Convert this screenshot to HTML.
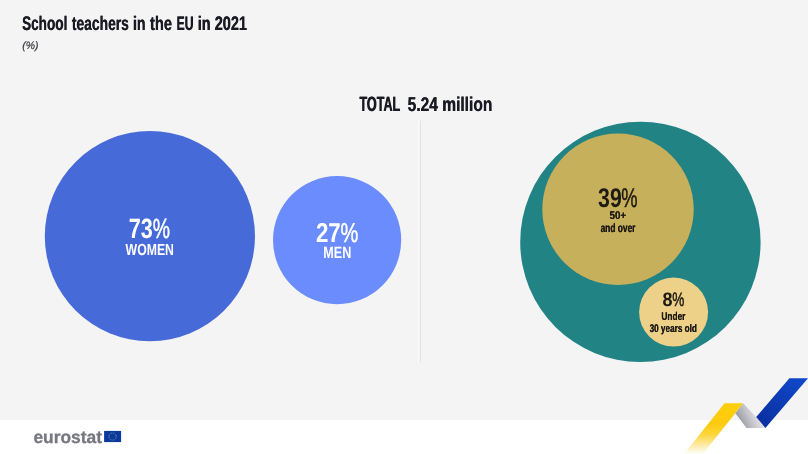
<!DOCTYPE html>
<html><head><meta charset="utf-8">
<style>
html,body{margin:0;padding:0;}
body{width:808px;height:454px;overflow:hidden;background:#f4f4f4;position:relative;font-family:"Liberation Sans",sans-serif;}
svg{position:absolute;left:0;top:0;will-change:transform;}
text{font-family:"Liberation Sans",sans-serif;text-rendering:geometricPrecision;}
</style></head><body>
<svg width="808" height="454" viewBox="0 0 808 454">
<defs>
<linearGradient id="gy" gradientUnits="userSpaceOnUse" x1="0" y1="454" x2="0" y2="403"><stop offset="0" stop-color="#ffffff"/><stop offset="0.12" stop-color="#fdf0c0"/><stop offset="0.4" stop-color="#fcd436"/><stop offset="0.6" stop-color="#fccb10"/><stop offset="1" stop-color="#fdcf08"/></linearGradient>
<linearGradient id="gg" gradientUnits="userSpaceOnUse" x1="737" y1="424" x2="762" y2="412"><stop offset="0" stop-color="#8c8c96"/><stop offset="0.5" stop-color="#c4c4ca"/><stop offset="1" stop-color="#f4f4f6"/></linearGradient>
<linearGradient id="gb" gradientUnits="userSpaceOnUse" x1="760" y1="425" x2="800" y2="380"><stop offset="0" stop-color="#0a2fa0"/><stop offset="1" stop-color="#1048c8"/></linearGradient>
</defs>
<rect x="0" y="0" width="808" height="454" fill="#f4f4f4"/>
<rect x="0" y="420" width="808" height="34" fill="#ffffff"/>
<rect x="418" y="121" width="1.6" height="241" fill="#fafafa"/><rect x="419.8" y="121" width="1.1" height="241" fill="#e2e2e2"/>
<circle cx="149.9" cy="236.2" r="105.1" fill="#476ad9"/>
<circle cx="337.1" cy="240.1" r="64.1" fill="#6a8cfc"/>
<circle cx="640.4" cy="241.9" r="120.2" fill="#228384"/>
<circle cx="618" cy="209.2" r="75.7" fill="#c7b05b"/>
<circle cx="673.6" cy="312.1" r="34.5" fill="#edd189"/>
<polygon points="724.5,403.2 743.2,403.2 702.8,454 684,454" fill="url(#gy)"/>
<polygon points="743.2,403.2 756.5,417.5 765.4,428 746.5,428 735.4,413.2" fill="url(#gg)"/>
<polygon points="789.4,378.2 808,378.2 765.4,428 756.2,417" fill="url(#gb)"/>
<text transform="translate(21.93 29.70) scale(0.6924 1)" font-size="19.60" font-weight="bold" font-style="normal" fill="#1a1a24">School</text>
<text transform="translate(22.28 29.70) scale(0.6924 1)" font-size="19.60" font-weight="bold" font-style="normal" fill="#1a1a24">School</text>
<text transform="translate(71.66 29.70) scale(0.7081 1)" font-size="19.60" font-weight="bold" font-style="normal" fill="#1a1a24">teachers</text>
<text transform="translate(72.01 29.70) scale(0.7081 1)" font-size="19.60" font-weight="bold" font-style="normal" fill="#1a1a24">teachers</text>
<text transform="translate(132.85 29.70) scale(0.7210 1)" font-size="19.60" font-weight="bold" font-style="normal" fill="#1a1a24">in</text>
<text transform="translate(133.20 29.70) scale(0.7210 1)" font-size="19.60" font-weight="bold" font-style="normal" fill="#1a1a24">in</text>
<text transform="translate(149.85 29.70) scale(0.7511 1)" font-size="19.60" font-weight="bold" font-style="normal" fill="#1a1a24">the</text>
<text transform="translate(150.20 29.70) scale(0.7511 1)" font-size="19.60" font-weight="bold" font-style="normal" fill="#1a1a24">the</text>
<text transform="translate(176.47 29.70) scale(0.6193 1)" font-size="19.60" font-weight="bold" font-style="normal" fill="#1a1a24">EU</text>
<text transform="translate(176.87 29.70) scale(0.6193 1)" font-size="19.60" font-weight="bold" font-style="normal" fill="#1a1a24">EU</text>
<text transform="translate(197.54 29.70) scale(0.7342 1)" font-size="19.60" font-weight="bold" font-style="normal" fill="#1a1a24">in</text>
<text transform="translate(197.89 29.70) scale(0.7342 1)" font-size="19.60" font-weight="bold" font-style="normal" fill="#1a1a24">in</text>
<text transform="translate(214.56 29.70) scale(0.7400 1)" font-size="19.60" font-weight="bold" font-style="normal" fill="#1a1a24">2021</text>
<text transform="translate(214.91 29.70) scale(0.7400 1)" font-size="19.60" font-weight="bold" font-style="normal" fill="#1a1a24">2021</text>
<text transform="translate(22.28 48.54) scale(0.9739 1)" font-size="10.74" font-weight="normal" font-style="italic" fill="#3a3a40" stroke="#3a3a40" stroke-width="0.2">(%)</text>
<text transform="translate(359.17 111.00) scale(0.6069 1)" font-size="20.71" font-weight="bold" font-style="normal" fill="#1a1a24">TOTAL</text>
<text transform="translate(359.72 111.00) scale(0.6069 1)" font-size="20.71" font-weight="bold" font-style="normal" fill="#1a1a24">TOTAL</text>
<text transform="translate(407.53 111.00) scale(0.7821 1)" font-size="19.86" font-weight="bold" font-style="normal" fill="#1a1a24">5.24 million</text>
<text transform="translate(407.83 111.00) scale(0.7821 1)" font-size="19.86" font-weight="bold" font-style="normal" fill="#1a1a24">5.24 million</text>
<text transform="translate(128.74 238.10) scale(0.7760 1)" font-size="27.86" font-weight="bold" font-style="normal" fill="#fff">73</text>
<text transform="translate(152.82 238.10) scale(0.6963 1)" font-size="27.86" font-weight="normal" font-style="normal" fill="#fff" stroke="#fff" stroke-width="0.5">%</text>
<text transform="translate(125.60 254.60) scale(0.7596 1)" font-size="16.14" font-weight="bold" font-style="normal" fill="#fff">WOMEN</text>
<text transform="translate(315.93 241.70) scale(0.8198 1)" font-size="27.29" font-weight="bold" font-style="normal" fill="#fff">27</text>
<text transform="translate(340.40 241.70) scale(0.7330 1)" font-size="27.29" font-weight="normal" font-style="normal" fill="#fff" stroke="#fff" stroke-width="0.5">%</text>
<text transform="translate(323.34 257.90) scale(0.7681 1)" font-size="16.43" font-weight="bold" font-style="normal" fill="#fff">MEN</text>
<text transform="translate(598.07 206.80) scale(0.7890 1)" font-size="27.00" font-weight="bold" font-style="normal" fill="#1e1a14">39</text>
<text transform="translate(621.35 206.80) scale(0.6783 1)" font-size="27.00" font-weight="normal" font-style="normal" fill="#1e1a14" stroke="#1e1a14" stroke-width="0.5">%</text>
<text transform="translate(609.40 218.90) scale(0.8740 1)" font-size="11.29" font-weight="bold" font-style="normal" fill="#1e1a14">50+</text>
<text transform="translate(609.60 218.90) scale(0.8740 1)" font-size="11.29" font-weight="bold" font-style="normal" fill="#1e1a14">50+</text>
<text transform="translate(600.43 231.80) scale(0.6877 1)" font-size="12.19" font-weight="bold" font-style="normal" fill="#1e1a14">and over</text>
<text transform="translate(600.63 231.80) scale(0.6877 1)" font-size="12.19" font-weight="bold" font-style="normal" fill="#1e1a14">and over</text>
<text transform="translate(662.56 306.40) scale(0.9265 1)" font-size="19.43" font-weight="bold" font-style="normal" fill="#1e1a14">8</text>
<text transform="translate(672.29 306.40) scale(0.7007 1)" font-size="19.43" font-weight="normal" font-style="normal" fill="#1e1a14" stroke="#1e1a14" stroke-width="0.5">%</text>
<text transform="translate(661.30 319.50) scale(0.7329 1)" font-size="11.37" font-weight="bold" font-style="normal" fill="#1e1a14">Under</text>
<text transform="translate(661.50 319.50) scale(0.7329 1)" font-size="11.37" font-weight="bold" font-style="normal" fill="#1e1a14">Under</text>
<text transform="translate(33.38 442.50) scale(0.9904 1)" font-size="17.58" font-weight="bold" font-style="normal" fill="#76777f" stroke="#76777f" stroke-width="0.3">eurostat</text>
<text transform="translate(649.44 331.70) scale(0.7309 1)" font-size="11.23" font-weight="bold" font-style="normal" fill="#1e1a14">30 years old</text>
<text transform="translate(649.64 331.70) scale(0.7309 1)" font-size="11.23" font-weight="bold" font-style="normal" fill="#1e1a14">30 years old</text>
<rect x="104.1" y="430.9" width="17" height="11.2" fill="#0b3a9e"/>
<circle cx="112.6" cy="436.5" r="3.6" fill="none" stroke="#8f9a7a" stroke-width="0.9" stroke-dasharray="0.95 0.935"/>
</svg>
</body></html>
